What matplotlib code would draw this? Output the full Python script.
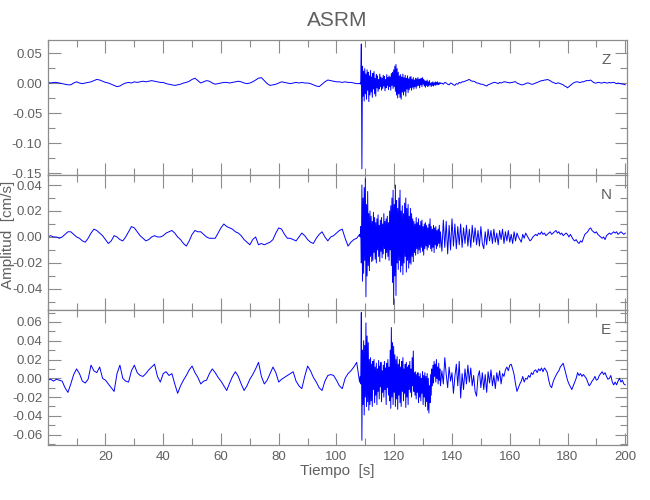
import matplotlib
matplotlib.use("Agg")
import matplotlib.pyplot as plt
import numpy as np
from matplotlib.ticker import MultipleLocator, FormatStrFormatter, FixedLocator

plt.rcParams['font.family'] = ['Liberation Sans Narrow', 'Liberation Sans', 'DejaVu Sans']
plt.rcParams['font.stretch'] = 'condensed'
plt.rcParams['axes.unicode_minus'] = False

# amplitudes, in 0.001 cm/s
# pre-event part: one value per second, t = 0 .. 108 s
z_pre = [1, 0, 1, 1, 0, -1, -2, -3, -3, 0,
         2, 0, -1, 0, 1, 2, 4, 6, 5, 3,
         1, 0, -2, -4, -6, -5, -2, 0, 1, 0,
         2, 1, 2, 3, 2, 3, 4, 3, 2, 1,
         1, -1, -2, -3, -4, -3, -2, 0, 1, 3,
         6, 8, 4, 0, 2, 4, 3, 0, -2, -1,
         0, 1, 1, 0, 1, 2, 3, 2, 0, -1,
         0, 2, 5, 8, 9, 4, -1, -4, -3, -2,
         0, 2, 1, 0, -1, 0, 1, 0, 1, 0,
         0, -1, -3, -5, -6, -2, 2, 5, 4, 3,
         2, 2, 1, 2, 1, 1, 0, -1, -1]
# coda: every 0.2 s, t = 108.2 .. 136 s
z_coda = [0, -2, 65, -143, 28, -22, 20, -30, 24, -18,
          15, -27, 22, -12, 18, -31, 12, -20, 21, -15,
          10, -24, 16, -10, 19, -18, 8, -22, 14, -8,
          12, -14, 6, -10, 15, -6, 10, -12, 8, -9,
          13, -5, 11, -13, 6, -8, 14, -4, 9, -11,
          12, -6, 10, -12, 16, -4, 18, -9, 22, -6,
          28, -14, 31, -20, 24, -25, 18, -18, 12, -24,
          14, -27, 10, -15, 15, -20, 9, -14, 13, -22,
          8, -10, 12, -16, 7, -11, 10, -8, 11, -12,
          6, -7, 9, -10, 5, -6, 8, -9, 7, -5,
          9, -4, 6, -8, 7, -3, 8, -6, 9, -2,
          6, -5, 4, -7, 3, -4, 5, -6, 2, -5,
          4, -3, -1, -6, 1, -4, 2, -5, 0, -3,
          2, -4, 1, -2, 2, -3, 0, -2, 1, -1]
# tail: every 0.5 s, t = 136.5 .. 200 s
z_tail = [0, -2, 1, 0, -2, -3, 0, -1, -3, -4,
          -1, -2, 1, 0, 2, 2, 3, 4, 5, 6,
          4, 3, 3, 2, 0, 0, -1, -2, -2, -3,
          -4, -5, -3, -2, -1, 0, 1, 1, 0, -1,
          1, 0, 1, 2, 2, 1, 1, 0, 1, 1,
          2, 2, 0, -1, -2, -3, -3, -2, -1, 0,
          0, -1, -2, -2, -1, 0, 1, 2, 3, 4,
          4, 5, 5, 6, 5, 4, 2, 1, 0, -1,
          0, 0, -1, -2, -3, -5, -6, -8, -6, -4,
          -2, 0, 1, 2, 2, 1, 1, 2, 2, 3,
          4, 4, 4, 5, 3, 1, 0, 0, 1, 1,
          0, 0, 1, 1, 0, 0, 1, 0, 1, 1,
          0, -1, 0, -1, -1, -2, -2, -3]

n_pre = [0, 1, 0, 0, -1, 0, 2, 4, 4, 2,
         0, -1, -3, -4, -1, 3, 6, 5, 3, 1,
         -2, -5, -3, 1, 0, -2, -3, 0, 4, 8,
         7, 4, 1, -1, -3, -2, 0, 1, 0, 0,
         1, 3, 4, 5, 3, 0, -2, -5, -7, -3,
         2, 5, 4, 4, 2, 0, -1, -1, -1, 3,
         7, 10, 8, 7, 6, 4, 3, 1, -2, -4,
         -6, -2, 0, -6, -5, -6, -5, -4, -2, 3,
         7, 6, 2, -1, -1, -2, -3, 0, 3, 1,
         -2, -4, -5, -1, 2, 4, 0, -3, 0, 1,
         3, 5, 6, -1, -7, -4, -2, -1, 2]
n_coda = [0, 8, -20, 40, -34, 30, -28, 38, -18, 45,
          -46, 25, -30, 35, -22, 18, -26, 20, -15, 16,
          -19, 12, -18, 19, -12, 15, -17, 11, -20, 14,
          -10, 17, -15, 9, -19, 13, -11, 15, -16, 10,
          -13, 18, -9, 12, -17, 14, -12, 16, -15, 11,
          -18, 20, -10, 24, -22, 30, -35, 36, -52, 25,
          -30, 40, -45, 28, -20, 22, -25, 30, -18, 36,
          -27, 20, -22, 24, -29, 18, -20, 26, -15, 30,
          -27, 22, -18, 25, -24, 16, -20, 22, -21, 18,
          -15, 14, -19, 12, -12, 10, -14, 15, -9, 11,
          -13, 14, -10, 9, -12, 12, -8, 13, -11, 8,
          -14, 10, -9, 11, -7, 9, -10, 7, -8, 10,
          -6, 14, -9, 8, -11, 6, -8, 9, -12, 7,
          -6, 8, -9, 5, -7, 6, -5, 9, -8, 4]
n_tail = [-11, 13, -8, 12, -13, 9, -10, 14, -7, 10,
          -9, 8, -6, 10, -8, 7, -5, 9, -7, 6,
          -8, 9, -4, 7, -6, 5, -7, 8, -5, -9,
          4, -6, 6, -3, 5, -5, 6, -4, 3, -6,
          5, -2, 6, -5, 4, -3, 5, -4, 2, -5,
          4, -3, 3, 0, -2, -4, 2, -1, 3, 1,
          -1, -3, -2, 0, 1, 2, 1, 3, 2, 4,
          2, 3, 1, 2, 3, 4, 2, 3, 4, 5,
          3, 4, 2, 3, 1, 2, 3, 2, 0, 2,
          0, -2, -3, -2, -4, -5, -3, -4, -1, 2,
          3, 4, 6, 7, 5, 4, 3, 4, 2, 1,
          0, -1, 0, -2, 1, 2, 3, 2, 3, 4,
          3, 4, 2, 3, 4, 3, 2, 3]

e_pre = [-2, -1, -3, -1, -2, -3, -10, -15, -6, 4,
         10, 5, -3, -5, -1, 14, 8, 6, 12, 0,
         -2, -6, -10, -14, 5, 14, 0, -3, -4, 8,
         14, 6, 3, 2, 5, 9, 12, 15, 2, -4,
         5, 7, 3, 5, -6, -16, -8, -2, 3, 9,
         13, 6, 1, -6, -3, -2, 5, 10, 6, 1,
         -3, -8, -13, -5, 2, 7, 2, -6, -13, -8,
         -1, 4, 10, 17, 2, -6, -2, 5, 12, 6,
         -4, -1, 1, 3, 5, 7, -3, -8, -11, 2,
         13, 8, 1, -4, -10, -13, -3, 3, 4, 3,
         -2, -8, -11, 0, 5, 8, 12, 17, -4]
e_coda = [2, -6, 70, -66, 30, -28, 40, -39, 35, -20,
          59, -30, 45, -25, 38, -34, 20, -28, 22, -24,
          15, -30, 18, -12, 20, -26, 12, -18, 16, -28,
          10, -14, 19, -22, 13, -9, 17, -25, 8, -15,
          14, -20, 18, -12, 11, -28, 16, -10, 20, -18,
          12, -24, 30, -32, 54, -20, 38, -28, 34, -15,
          25, -30, 20, -22, 23, -33, 15, -18, 20, -26,
          12, -30, 18, -14, 22, -24, 10, -16, 15, -31,
          17, -20, 12, -28, 14, -12, 18, -15, 10, -20,
          22, -8, 29, -14, 6, -18, 7, -22, 4, -15,
          6, -26, 2, -20, 5, -24, 0, -16, 7, -28,
          3, -20, 6, -30, 2, -25, 5, -34, 0, -37,
          -8, -26, 4, -18, 10, -8, 14, -5, 18, 2,
          15, -4, 20, 0, 12, -6, 16, -2, 10, -8]
e_tail = [8, -6, 22, 4, -10, 12, -3, 6, -16, 2,
          15, -8, 18, -21, 5, -12, 10, -6, 14, -4,
          11, -8, 3, -14, -19, 2, 8, -10, 6, -12,
          4, -15, 7, -5, 9, -8, 3, -11, 6, -3,
          8, -6, 5, 2, 9, 12, 8, 14, 15, 10,
          4, -6, -14, -10, -6, -3, 2, -4, 0, -1,
          3, 1, 6, 4, 8, 9, 6, 10, 8, 11,
          7, 11, 9, 6, -2, -8, -10, -4, 0, 3,
          6, 8, 12, 14, 16, 10, 4, -2, -6, -9,
          -12, -8, -4, 0, 6, 3, 5, 2, 4, 2,
          0, -4, -8, -6, -3, -1, 2, -2, -1, 3,
          5, 7, 4, 6, 2, -1, 0, 3, -4, -7,
          -4, -7, -3, 0, -4, -2, -6, -7]

components = ['Z', 'N', 'E']
ylims = [(-0.1533, 0.0717), (-0.0562, 0.0477), (-0.0710, 0.0727)]
ymajor = [0.05, 0.02, 0.02]
yminor = [0.025, 0.01, 0.01]
xtick_labels = [20, 40, 60, 80, 100, 120, 140, 160, 180, 200]


def build_trace(pre, coda, tail):
    t = np.concatenate([np.arange(len(pre)) * 1.0,
                        108.2 + 0.2 * np.arange(len(coda)),
                        136.5 + 0.5 * np.arange(len(tail))])
    v = np.concatenate([pre, coda, tail]) / 1000.0
    return t, v


traces = [build_trace(z_pre, z_coda, z_tail),
          build_trace(n_pre, n_coda, n_tail),
          build_trace(e_pre, e_coda, e_tail)]

fig = plt.figure(figsize=(6.5, 5), dpi=100)
frame = '#8c8c8c'
txt = '#606060'

left, width = 47.7 / 650, (627 - 47.7) / 650
tops = [40, 175, 310]
h = 135
for i in range(3):
    ax = fig.add_axes([left, 1 - (tops[i] + h) / 500, width, h / 500])
    t, v = traces[i]
    ax.plot(t, v, color='blue', linewidth=0.7)
    ax.set_xlim(0, 200.6)
    ax.set_ylim(*ylims[i])
    ax.xaxis.set_major_locator(FixedLocator(xtick_labels))
    ax.xaxis.set_minor_locator(MultipleLocator(10))
    ax.yaxis.set_major_locator(MultipleLocator(ymajor[i]))
    ax.yaxis.set_minor_locator(MultipleLocator(yminor[i]))
    ax.yaxis.set_major_formatter(FormatStrFormatter('%.2f'))
    ax.tick_params(which='both', direction='in', top=True, right=True,
                   color=frame, labelcolor=txt, labelsize=9.5, pad=4)
    ax.tick_params(which='major', length=9, width=0.8)
    ax.tick_params(which='minor', length=5, width=0.8)
    for s in ax.spines.values():
        s.set_color(frame)
        s.set_linewidth(0.9)
    if i < 2:
        ax.tick_params(labelbottom=False)
    ax.text(0.964, 0.85, components[i], transform=ax.transAxes,
            ha='center', va='center', color=txt, fontsize=11)

fig.text(0.519, 0.958, 'ASRM', ha='center', va='center', color=txt, fontsize=15)
fig.text(0.519, 0.058, 'Tiempo  [s]', ha='center', va='center', color=txt, fontsize=11)
fig.text(0.012, 0.53, 'Amplitud  [cm/s]', ha='center', va='center', rotation=90,
         color=txt, fontsize=11)

fig.savefig('out.png', dpi=100)
